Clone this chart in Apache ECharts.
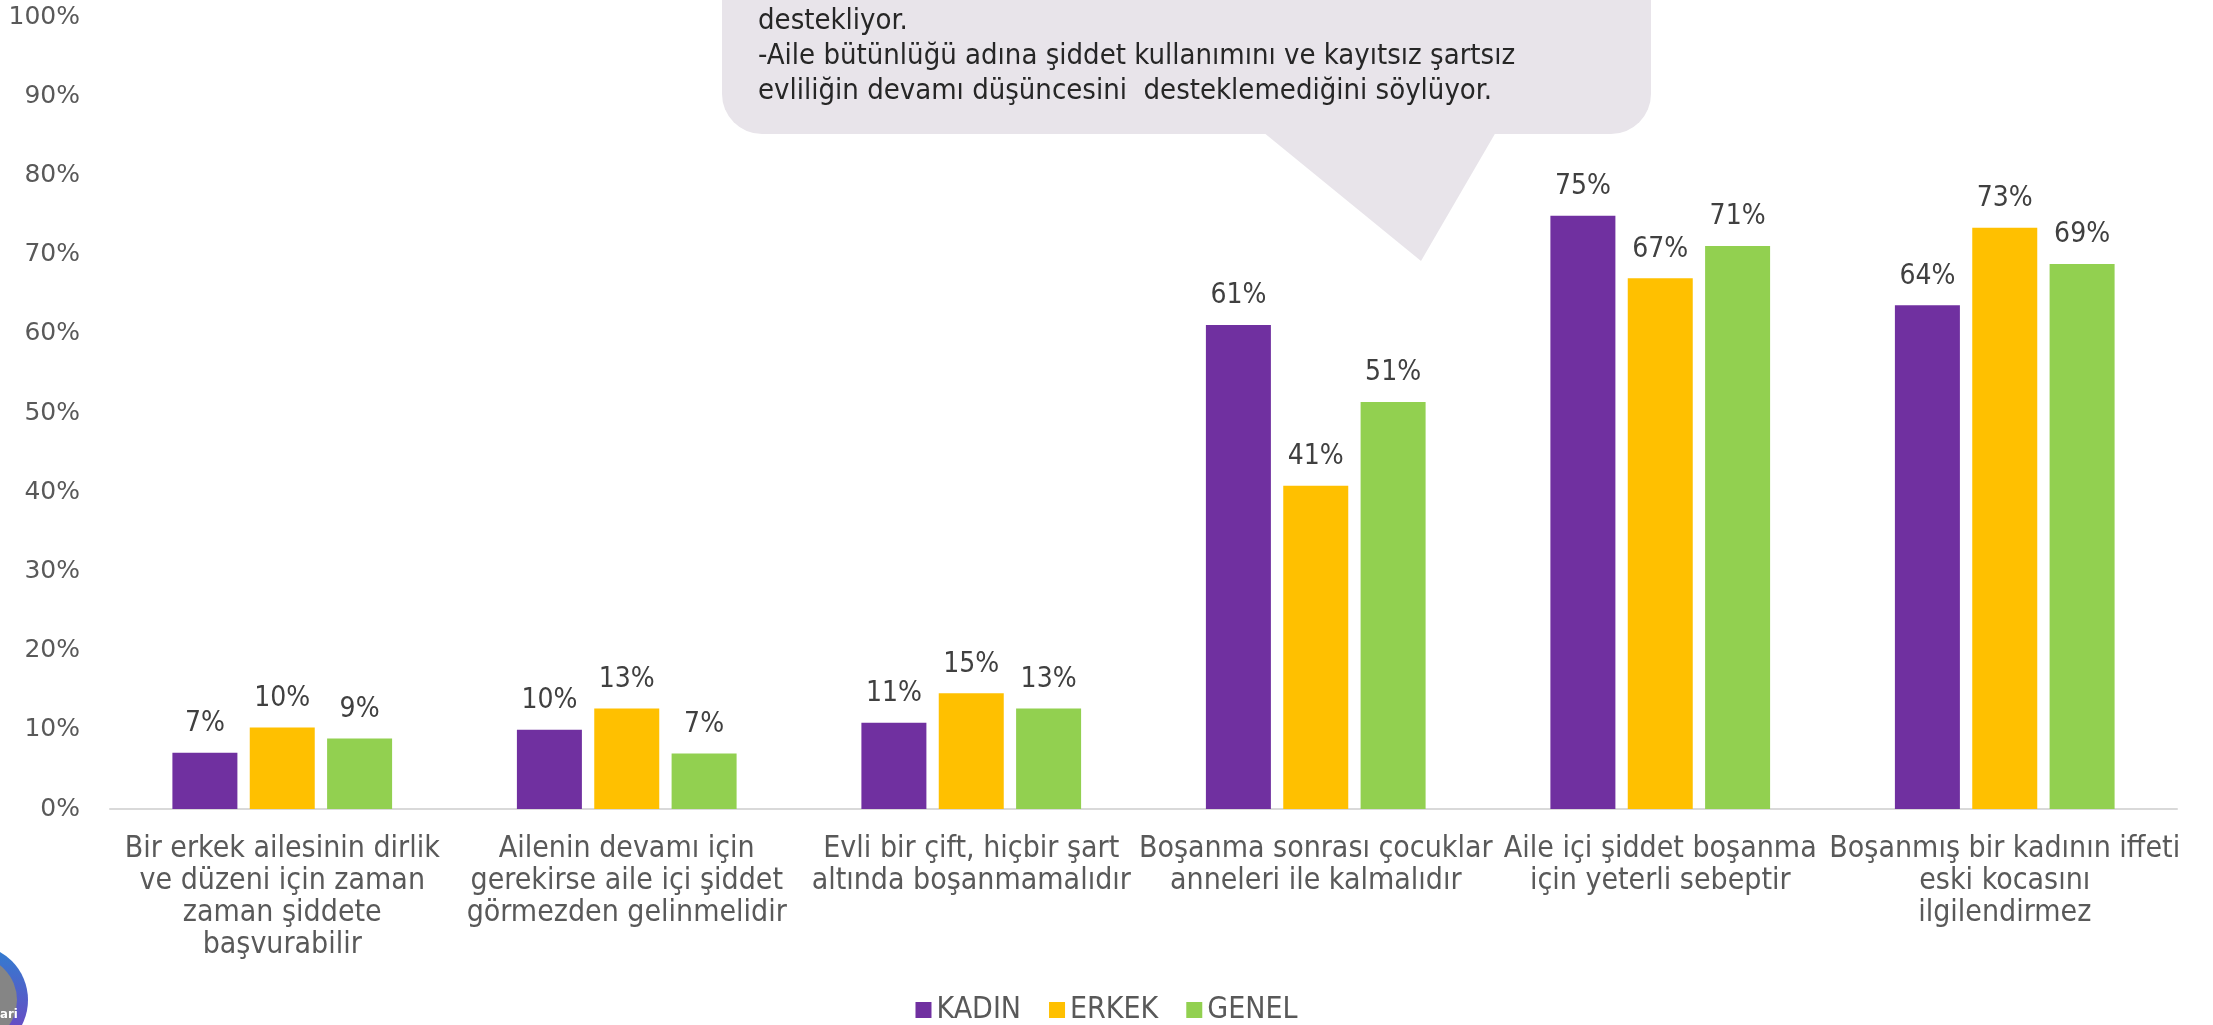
<!DOCTYPE html>
<html>
<head>
<meta charset="utf-8">
<title>Aile içi şiddet</title>
<script src="https://cdn.jsdelivr.net/npm/echarts@6/dist/echarts.min.js"></script>
<style>
	html, body { margin: 0; padding: 0; background: #fff; }
	#chart { width: 2213px; height: 1025px; }
</style>
</head>
<body>
<div id="chart"></div>
<script>
var categories = [
	'Bir erkek ailesinin dirlik\nve düzeni için zaman\nzaman şiddete\nbaşvurabilir',
	'Ailenin devamı için\ngerekirse aile içi şiddet\ngörmezden gelinmelidir',
	'Evli bir çift, hiçbir şart\naltında boşanmamalıdır',
	'Boşanma sonrası çocuklar\nanneleri ile kalmalıdır',
	'Aile içi şiddet boşanma\niçin yeterli sebeptir',
	'Boşanmış bir kadının iffeti\neski kocasını\nilgilendirmez'
];
var kadin = [7.1, 10.0, 10.9, 61.1, 74.9, 63.6];
var erkek = [10.3, 12.7, 14.6, 40.8, 67.0, 73.4];
var genel = [8.9, 7.0, 12.7, 51.4, 71.1, 68.8];

var bubbleLines = [
	'destekliyor.',
	'-Aile bütünlüğü adına şiddet kullanımını ve kayıtsız şartsız',
	'evliliğin devamı düşüncesini  desteklemediğini söylüyor.'
];

var condensed = '"DejaVu Sans Condensed", "DejaVu Sans", sans-serif';

function barSeries(name, data, color) {
	return {
		name: name,
		type: 'bar',
		data: data,
		barWidth: 65,
		barGap: '19%',
		itemStyle: { color: color },
		label: {
			show: true,
			position: 'top',
			distance: 15,
			color: '#404040',
			fontSize: 28,
			fontFamily: condensed,
			formatter: function (p) { return Math.round(p.value) + '%'; }
		}
	};
}

var chart = echarts.init(document.getElementById('chart'));
var option = {
	animation: false,
	grid: { left: 110, right: 36, top: 17, bottom: 216 },
	legend: {
		top: 990,
		left: 'center',
		icon: 'rect',
		itemWidth: 16,
		itemHeight: 16,
		itemGap: 28,
		textStyle: { color: '#595959', fontSize: 30, fontFamily: condensed },
		data: ['KADIN', 'ERKEK', 'GENEL']
	},
	xAxis: {
		type: 'category',
		data: categories,
		axisLine: { lineStyle: { color: '#d9d9d9', width: 2 } },
		axisTick: { show: false },
		axisLabel: {
			interval: 0,
			margin: 24,
			color: '#595959',
			fontSize: 30,
			lineHeight: 32,
			fontFamily: condensed
		}
	},
	yAxis: {
		type: 'value',
		min: 0,
		max: 100,
		interval: 10,
		axisLine: { show: false },
		axisTick: { show: false },
		splitLine: { show: false },
		axisLabel: {
			formatter: '{value}%',
			color: '#595959',
			fontSize: 25,
			margin: 30,
			fontFamily: '"DejaVu Sans", sans-serif'
		}
	},
	series: [
		barSeries('KADIN', kadin, '#7030A0'),
		barSeries('ERKEK', erkek, '#FFC000'),
		barSeries('GENEL', genel, '#92D050')
	],
	graphic: [
		// speech bubble (cut by the top edge)
		{
			type: 'rect', z: -1,
			shape: { x: 722, y: -60, width: 929, height: 194, r: 40 },
			style: { fill: '#E8E4EA' }
		},
		{
			type: 'polygon', z: -1,
			shape: { points: [[1263, 132], [1496, 132], [1421, 261]] },
			style: { fill: '#E8E4EA' }
		},
		{
			type: 'text', z: 5,
			x: 758, y: 4,
			style: {
				text: bubbleLines.join('\n'),
				fill: '#262626',
				fontSize: 29,
				lineHeight: 35,
				fontFamily: condensed
			}
		},
		// logo fragment bottom-left
		{
			type: 'circle', z: 5,
			shape: { cx: -27, cy: 1000, r: 55 },
			style: {
				fill: new echarts.graphic.LinearGradient(0, 0, 0, 1, [
					{ offset: 0, color: '#2f7fd0' },
					{ offset: 1, color: '#7a3cc0' }
				])
			}
		},
		{
			type: 'circle', z: 6,
			shape: { cx: -27, cy: 1000, r: 44 },
			style: { fill: '#858585' }
		},
		{
			type: 'text', z: 7,
			x: 0, y: 1008,
			style: { text: 'ari', fill: '#fff', fontSize: 13, fontWeight: 'bold', fontFamily: condensed }
		}
	]
};
chart.setOption(option);
</script>
</body>
</html>
